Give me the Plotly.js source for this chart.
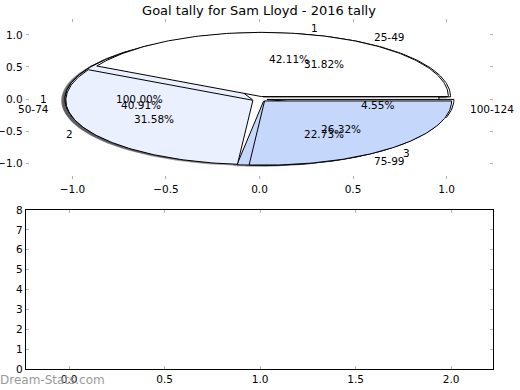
<!DOCTYPE html>
<html><head><meta charset="utf-8">
<script src="https://cdn.plot.ly/plotly-3.0.1.min.js"></script>
<style>html,body{margin:0;padding:0;background:#fff}#chart{width:520px;height:390px}</style>
</head><body><div id="chart"></div>
<script>
// ---- data ----
const titleText = 'Goal tally for Sam Lloyd - 2016 tally';
const watermark = 'Dream-Stats.com';
// pies drawn in this order (later ones on top)
const pieC_labels = ['1'];
const pieC_values = [1];
const pieA_labels = ['25-49', '50-74', '75-99', '100-124'];
const pieA_values = [7, 9, 5, 1];
const pieB_labels = ['1', '2', '3'];
const pieB_values = [8, 6, 5];
const sliceColors = ['#ffffff', '#eaf0fd', '#c5d8fb'];
const topTicks = [-1, -0.5, 0, 0.5, 1];
const bottomYTicks = [0, 1, 2, 3, 4, 5, 6, 7, 8];
const bottomXTicks = [0, 0.5, 1, 1.5, 2];

// ---- style ----
const FONT = 'DejaVu Sans, sans-serif';
const EXPLODE = 0.04, LABEL_DIST = 1.1, PCT_DIST = 0.6, SHADOW = -0.02;
const W = 520, H = 390;
const px2x = p => p / W, px2y = p => 1 - p / H;

function hexToRgb(h){ return [1,3,5].map(i => parseInt(h.substr(i,2),16)); }

const shadowTraces = [], wedgeTraces = [], annotations = [];
function buildPie(labels, values){
  const total = values.reduce((a,b)=>a+b,0);
  let t1 = 0;
  values.forEach((v, i) => {
    const t2 = t1 + 360 * v / total;
    const mid = (t1 + t2) / 2 * Math.PI / 180;
    const cx = EXPLODE * Math.cos(mid), cy = EXPLODE * Math.sin(mid);
    const full = Math.abs((t2 - t1) - 360) < 1e-9;
    const xs = [], ys = [];
    if (!full) { xs.push(cx); ys.push(cy); }
    const n = Math.max(2, Math.ceil((t2 - t1)));
    for (let k = 0; k <= n; k++) {
      const a = (t1 + (t2 - t1) * k / n) * Math.PI / 180;
      xs.push(cx + Math.cos(a)); ys.push(cy + Math.sin(a));
    }
    if (!full) { xs.push(cx); ys.push(cy); }
    const col = sliceColors[i % sliceColors.length];
    const rgb = hexToRgb(col).map(c => Math.round(c * 0.3));
    shadowTraces.push({
      type:'scatter', mode:'lines', x: xs.map(x => x + SHADOW), y: ys.map(y => y + SHADOW),
      fill:'toself', fillcolor:`rgba(${rgb.join(',')},0.5)`, line:{width:0, color:'rgba(0,0,0,0)'},
      hoverinfo:'skip', showlegend:false, xaxis:'x', yaxis:'y'
    });
    wedgeTraces.push({
      type:'scatter', mode:'lines', x: xs, y: ys, fill:'toself', fillcolor: col,
      line:{width:1, color:'#000'}, hoverinfo:'skip', showlegend:false, xaxis:'x', yaxis:'y'
    });
    const lx = cx + LABEL_DIST * Math.cos(mid), ly = cy + LABEL_DIST * Math.sin(mid);
    annotations.push({xref:'x', yref:'y', x: lx, y: ly, text: labels[i], showarrow:false,
      xanchor: lx > 0 ? 'left' : 'right', xshift: lx > 0 ? -3 : 3, yanchor:'middle',
      font:{family:FONT, size:10.5, color:'#000'}});
    const pxx = cx + PCT_DIST * Math.cos(mid), pyy = cy + PCT_DIST * Math.sin(mid);
    annotations.push({xref:'x', yref:'y', x: pxx, y: pyy, text: (100 * v / total).toFixed(2) + '%',
      showarrow:false, xanchor:'center', yanchor:'middle', font:{family:FONT, size:10.5, color:'#000'}});
    t1 = t2;
  });
}
buildPie(pieC_labels, pieC_values);
buildPie(pieA_labels, pieA_values);
buildPie(pieB_labels, pieB_values);

annotations.push({xref:'paper', yref:'paper', x: 0, y: px2y(380), xanchor:'left', yanchor:'middle', xshift:-2,
  text: watermark, showarrow:false, font:{family:FONT, size:12, color:'#9a9a9a'}});

const emptyTrace = {type:'scatter', mode:'markers', x:[], y:[], xaxis:'x2', yaxis:'y2', showlegend:false, hoverinfo:'skip'};

const xDom = [px2x(25.7), px2x(493.3)];
const tickFont = {family:FONT, size:10.5, color:'#000'};
const layout = {
  width: W, height: H,
  margin:{l:0, r:0, t:0, b:0, pad:0},
  paper_bgcolor:'#fff', plot_bgcolor:'rgba(0,0,0,0)',
  showlegend:false,
  title:{text: titleText, x:0.498, xref:'paper', y: px2y(10), yref:'paper', xanchor:'center', yanchor:'middle',
    font:{family:FONT, size:13, color:'#000'}},
  xaxis:{domain:xDom, range:[-1.25, 1.25], anchor:'y', tickvals: topTicks, tickformat:'.1f',
    ticks:'inside', ticklen:3, tickcolor:'#b0b0b0', showline:true, linecolor:'rgba(0,0,0,0)', mirror:'ticks',
    showgrid:false, zeroline:false, tickfont:tickFont, fixedrange:true},
  yaxis:{domain:[px2y(179.3), px2y(18.8)], range:[-1.25, 1.25], anchor:'x', tickvals: topTicks, tickformat:'.1f',
    ticks:'inside', ticklen:3, tickcolor:'#b0b0b0', showline:true, linecolor:'rgba(0,0,0,0)', mirror:'ticks',
    showgrid:false, zeroline:false, tickfont:tickFont, fixedrange:true},
  xaxis2:{domain:xDom, range:[-0.227, 2.221], anchor:'y2', tickvals: bottomXTicks, tickformat:'.1f',
    ticks:'inside', ticklen:3, tickcolor:'#b0b0b0', showline:true, linecolor:'#000', linewidth:1, mirror:'ticks',
    showgrid:false, zeroline:false, tickfont:tickFont, fixedrange:true},
  yaxis2:{domain:[px2y(369), px2y(210)], range:[0, 8], anchor:'x2', tickvals: bottomYTicks, tickformat:'d',
    ticks:'inside', ticklen:3, tickcolor:'#b0b0b0', showline:true, linecolor:'#000', linewidth:1, mirror:'ticks',
    showgrid:false, zeroline:false, tickfont:tickFont, fixedrange:true},
  annotations: annotations
};
Plotly.newPlot('chart', shadowTraces.concat(wedgeTraces, [emptyTrace]), layout, {staticPlot:true, displayModeBar:false});
</script></body></html>
